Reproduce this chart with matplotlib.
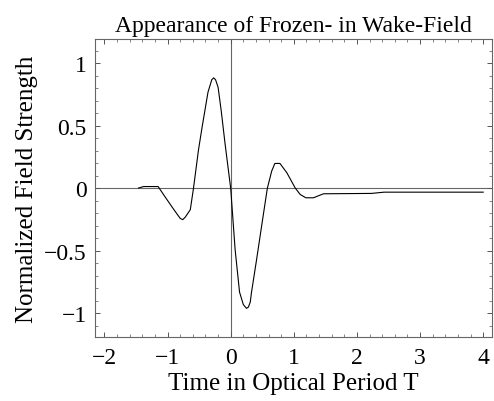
import matplotlib
matplotlib.use("Agg")
import matplotlib.pyplot as plt
from matplotlib.ticker import MultipleLocator, FuncFormatter

# wake-field curve
t = [-1.46, -1.38, -1.15, -1.05, -0.90, -0.80, -0.76, -0.72, -0.64, -0.59,
     -0.51, -0.45, -0.36, -0.33, -0.30, -0.27, -0.24, -0.20, -0.15, -0.09,
     0.0, 0.07, 0.14, 0.20, 0.25, 0.28, 0.31, 0.33, 0.41, 0.49,
     0.58, 0.65, 0.70, 0.78, 0.89, 1.02, 1.10, 1.19, 1.31, 1.47,
     2.23, 2.43, 4.0]
field = [0.003, 0.015, 0.015, -0.06, -0.17, -0.24, -0.25, -0.23, -0.17, 0.0,
         0.31, 0.50, 0.77, 0.82, 0.87, 0.885, 0.87, 0.81, 0.62, 0.36,
         0.0, -0.49, -0.83, -0.93, -0.96, -0.95, -0.91, -0.83, -0.57, -0.30,
         0.0, 0.14, 0.20, 0.20, 0.125, 0.005, -0.048, -0.075, -0.075, -0.043,
         -0.04, -0.03, -0.03]

plt.rcParams['font.family'] = ['Liberation Serif', 'DejaVu Serif']

fig = plt.figure(figsize=(4.94, 4.02), dpi=100)
ax = fig.add_axes([0.1923, 0.159, 0.8037, 0.7415])

ax.axhline(0, color='#666666', lw=0.8, zorder=1)
ax.axvline(0, color='#666666', lw=0.8, zorder=1)
ax.plot(t, field, color='black', lw=0.8, zorder=2)

ax.set_xlim(-2.15, 4.14)
ax.set_ylim(-1.19, 1.196)

ax.xaxis.set_major_locator(MultipleLocator(1))
ax.xaxis.set_minor_locator(MultipleLocator(0.2))
ax.yaxis.set_major_locator(MultipleLocator(0.5))
ax.yaxis.set_minor_locator(MultipleLocator(0.1))
fmt = FuncFormatter(lambda v, p: ('%g' % v).replace('-', '\u2212'))
ax.xaxis.set_major_formatter(fmt)
ax.yaxis.set_major_formatter(fmt)

ax.tick_params(which='both', direction='in', top=True, right=True,
               color='#555555', labelsize=17, pad=6)
ax.tick_params(axis='x', pad=7)
ax.tick_params(which='major', length=3.5, width=0.7)
ax.tick_params(which='minor', length=2, width=0.5)
for s in ax.spines.values():
    s.set_color('#666666')
    s.set_linewidth(0.8)

ax.set_title('Appearance of Frozen- in Wake-Field', fontsize=17, pad=6)
ax.set_xlabel('Time in Optical Period T', fontsize=18, labelpad=3)
ax.set_ylabel('Normalized Field Strength', fontsize=18, labelpad=4)

fig.savefig('out.png', dpi=100)
